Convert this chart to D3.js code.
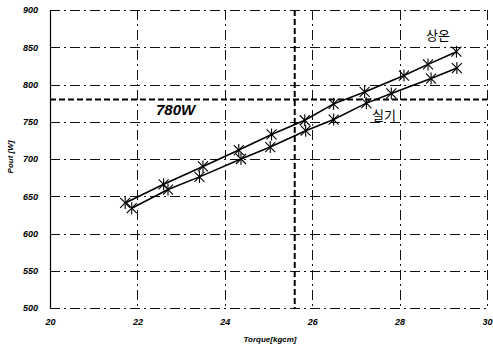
<!DOCTYPE html>
<html>
<head>
<meta charset="utf-8">
<script src="https://cdn.jsdelivr.net/npm/d3@7"></script>
<style>
  html, body { margin: 0; padding: 0; background: #fff; }
  svg text { font-family: Arial, "Liberation Sans", sans-serif; fill: #000; }
</style>
</head>
<body>
<svg id="chart" width="493" height="347"></svg>
<script>
// Output power vs. torque, two operating conditions
const torqueRoom = [21.72, 22.6, 23.5, 24.32, 25.07, 25.83, 26.49, 27.2, 28.1, 28.65, 29.3];
const poutRoom   = [641, 666, 690, 712, 733, 752, 774, 790, 812, 827, 844];
const torqueReal = [21.87, 22.7, 23.42, 24.37, 25.04, 25.85, 26.49, 27.24, 27.81, 28.72, 29.31];
const poutReal   = [634, 659, 676, 700, 716, 738, 753, 775, 788, 808, 822];

const seriesNames = ["상온", "실기"];
const xTicks = [20, 22, 24, 26, 28, 30];
const yTicks = [500, 550, 600, 650, 700, 750, 800, 850, 900];
const targetPower = 780;
const targetTorque = 25.6;
const targetLabel = "780W";

const svg = d3.select("#chart");
const plotL = 50, plotR = 487, plotT = 10, plotB = 308;

const x = d3.scaleLinear().domain([20, 30]).range([plotL, plotR]);
const y = d3.scaleLinear().domain([500, 900]).range([plotB, plotT]);

// grid (dash-dot), snapped to whole pixels
const px = v => Math.round(v) + 0.5;
const grid = svg.append("g").attr("shape-rendering", "crispEdges");
grid.selectAll("line.gx").data(xTicks).join("line")
  .attr("x1", d => px(x(d))).attr("x2", d => px(x(d)))
  .attr("y1", plotT).attr("y2", plotB)
  .attr("stroke", "#111").attr("stroke-width", 1)
  .attr("stroke-dasharray", "10,4,2,4");
grid.selectAll("line.gy").data(yTicks).join("line")
  .attr("x1", plotL).attr("x2", plotR)
  .attr("y1", d => px(y(d))).attr("y2", d => px(y(d)))
  .attr("stroke", "#111").attr("stroke-width", 1)
  .attr("stroke-dasharray", "10,4,2,4");

// left axis solid
svg.append("line").attr("x1", px(plotL)).attr("x2", px(plotL)).attr("y1", plotT).attr("y2", plotB)
  .attr("stroke", "#000").attr("stroke-width", 1.2);

// tick labels
const tickFont = "Arial, 'Liberation Sans', sans-serif";
const yAxis = d3.axisLeft(y).tickValues(yTicks).tickSize(0).tickPadding(12);
const gy = svg.append("g").attr("transform", `translate(${plotL},0)`).call(yAxis);
gy.select(".domain").remove();
gy.selectAll("text").attr("font-size", 9).attr("font-weight", "bold").attr("font-style", "italic")
  .attr("fill", "#000").style("font-family", tickFont);

const xAxis = d3.axisBottom(x).tickValues(xTicks).tickSize(0).tickPadding(11);
const gx = svg.append("g").attr("transform", `translate(0,${plotB})`).call(xAxis);
gx.select(".domain").remove();
gx.selectAll("text").attr("font-size", 9).attr("font-weight", "bold").attr("font-style", "italic")
  .attr("fill", "#000").style("font-family", tickFont);

// axis titles
svg.append("text").attr("transform", `translate(13,${(plotT + plotB) / 2 - 2}) rotate(-90)`)
  .attr("text-anchor", "middle").attr("font-size", 8).attr("font-style", "italic").attr("font-weight", "bold")
  .text("Pout [W]");
svg.append("text").attr("x", 270).attr("y", 342)
  .attr("text-anchor", "middle").attr("font-size", 8).attr("font-style", "italic").attr("font-weight", "bold")
  .text("Torque[kgcm]");

// target lines
svg.append("line").attr("x1", plotL).attr("x2", plotR)
  .attr("y1", y(targetPower)).attr("y2", y(targetPower))
  .attr("stroke", "#000").attr("stroke-width", 2).attr("stroke-dasharray", "6,3");
svg.append("line").attr("x1", x(targetTorque)).attr("x2", x(targetTorque))
  .attr("y1", plotT).attr("y2", plotB)
  .attr("stroke", "#000").attr("stroke-width", 2).attr("stroke-dasharray", "6,3");

svg.append("text").attr("x", 156).attr("y", 115)
  .attr("font-size", 15).attr("font-style", "italic").attr("font-weight", "bold")
  .text(targetLabel);

// series
const line = d3.line().x(d => x(d[0])).y(d => y(d[1]));
const series = [
  d3.zip(torqueRoom, poutRoom),
  d3.zip(torqueReal, poutReal)
];

series.forEach(pts => {
  svg.append("path").datum(pts).attr("d", line)
    .attr("fill", "none").attr("stroke", "#000").attr("stroke-width", 1.6);
  const m = svg.append("g");
  pts.forEach(p => {
    const cx = x(p[0]), cy = y(p[1]), r = 5;
    const g = m.append("g").attr("transform", `translate(${cx},${cy})`)
      .attr("stroke", "#000").attr("stroke-width", 1.1);
    g.append("line").attr("x1", -r).attr("y1", -r).attr("x2", r).attr("y2", r);
    g.append("line").attr("x1", -r).attr("y1", r).attr("x2", r).attr("y2", -r);
    g.append("line").attr("x1", 0).attr("y1", -r * 1.2).attr("x2", 0).attr("y2", r * 1.2);
  });
});

// series labels
const cjk = "'Noto Sans CJK KR', sans-serif";
svg.append("text").attr("x", 426).attr("y", 40).attr("font-size", 13)
  .style("font-family", cjk).text(seriesNames[0]);
svg.append("text").attr("x", 372).attr("y", 120).attr("font-size", 13)
  .style("font-family", cjk).text(seriesNames[1]);
</script>
</body>
</html>
